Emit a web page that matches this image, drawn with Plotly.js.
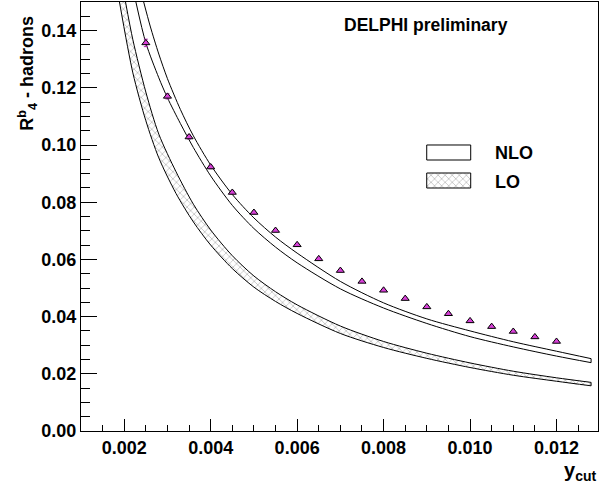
<!DOCTYPE html>
<html>
<head>
<meta charset="utf-8">
<script src="https://cdn.plot.ly/plotly-3.0.1.min.js"></script>
<style>
html,body{margin:0;padding:0;background:#fff;}
#chart{width:600px;height:483px;}
</style>
</head>
<body>
<div id="chart"></div>
<script>
// ---- data ----
const ycut = [0.0025,0.003,0.0035,0.004,0.0045,0.005,0.0055,0.006,0.0065,0.007,0.0075,0.008,0.0085,0.009,0.0095,0.010,0.0105,0.011,0.0115,0.012];
const r4b = [0.1357,0.1170,0.1028,0.0923,0.0834,0.0764,0.0701,0.0651,0.0602,0.0561,0.0523,0.0492,0.0463,0.0434,0.0410,0.0385,0.0365,0.0348,0.0329,0.0313];
const r4bErr = [0.0013,0.0009,0.0007,0.0006,0.0005,0.0005,0.0004,0.0004,0.0004,0.0004,0.0003,0.0003,0.0003,0.0003,0.0003,0.0003,0.0003,0.0003,0.0003,0.0003];

const nloUpperX = [0.00245,0.0026,0.0028,0.003,0.0033,0.0036,0.004,0.0045,0.005,0.0055,0.006,0.007,0.008,0.009,0.010,0.011,0.012,0.0128];
const nloUpperY = [0.150,0.1416,0.1318,0.1232,0.1124,0.1032,0.0930,0.0827,0.0745,0.0678,0.0622,0.0523,0.0448,0.0392,0.0350,0.0312,0.0279,0.0253];
const nloLowerX = [0.00227,0.0025,0.0028,0.003,0.0033,0.0036,0.004,0.0045,0.005,0.0055,0.006,0.007,0.008,0.009,0.010,0.011,0.012,0.0128];
const nloLowerY = [0.150,0.1357,0.1235,0.1165,0.1075,0.0991,0.0892,0.0789,0.0708,0.0643,0.0588,0.0497,0.0430,0.0376,0.0330,0.0294,0.0262,0.0239];

const loUpperX = [0.00203,0.0022,0.0025,0.0028,0.0032,0.0036,0.004,0.0045,0.005,0.0055,0.006,0.007,0.008,0.009,0.010,0.011,0.012,0.0128];
const loUpperY = [0.150,0.1368,0.1185,0.1038,0.0906,0.0793,0.0703,0.0613,0.0542,0.0487,0.0441,0.0367,0.0313,0.0272,0.0238,0.0209,0.0186,0.0170];
const loLowerX = [0.00189,0.0022,0.0025,0.0028,0.0032,0.0036,0.004,0.0045,0.005,0.0055,0.006,0.007,0.008,0.009,0.010,0.011,0.012,0.0128];
const loLowerY = [0.150,0.1252,0.1085,0.0955,0.0830,0.0731,0.0650,0.0568,0.0503,0.0453,0.0411,0.0341,0.0292,0.0254,0.0222,0.0195,0.0174,0.0158];

const xTickVals = [0.002,0.004,0.006,0.008,0.010,0.012];
const xTickText = ['0.002','0.004','0.006','0.008','0.010','0.012'];
const yTickVals = [0,0.02,0.04,0.06,0.08,0.10,0.12,0.14];
const yTickText = ['0.00','0.02','0.04','0.06','0.08','0.10','0.12','0.14'];

const seriesNames = ['NLO','LO'];
const titleText = 'DELPHI preliminary';
const yTitle = 'R<sup>b</sup><sub>4</sub> - hadrons';
const xTitle = 'y<sub>cut</sub>';

// ---- build ----
const FONT = 'Liberation Sans, Arial, Helvetica, sans-serif';
const last = a => a[a.length - 1];

function bandTraces(name, ux, uy, lx, ly, pattern) {
  const fillTrace = {
    type:'scatter', mode:'lines', name:name,
    x: ux.concat(lx.slice().reverse()),
    y: uy.concat(ly.slice().reverse()),
    fill:'toself', fillcolor:'#ffffff',
    line:{width:0, shape:'spline', smoothing:0.8},
    showlegend:false, hoverinfo:'skip'
  };
  if (pattern) fillTrace.fillpattern = pattern;
  const edge = (x, y) => ({
    type:'scatter', mode:'lines', x:x, y:y,
    line:{color:'#000', width:1, shape:'spline', smoothing:0.8},
    showlegend:false, hoverinfo:'skip'
  });
  const cap = {
    type:'scatter', mode:'lines', x:[last(ux), last(lx)], y:[last(uy), last(ly)],
    line:{color:'#000', width:1}, showlegend:false, hoverinfo:'skip'
  };
  return [fillTrace, edge(ux, uy), edge(lx, ly), cap];
}

const hatch = {shape:'x', fgcolor:'#a8a8a8', bgcolor:'#ffffff', size:5, solidity:0.22};

const traces = [].concat(
  bandTraces(seriesNames[1], loUpperX, loUpperY, loLowerX, loLowerY, hatch),
  bandTraces(seriesNames[0], nloUpperX, nloUpperY, nloLowerX, nloLowerY, null),
  [{
    type:'scatter', mode:'markers', name:'data',
    x: ycut, y: r4b,
    error_y:{type:'data', array:r4bErr, visible:true, color:'#b030b0', thickness:1, width:2},
    marker:{symbol:'triangle-up', size:7, color:'#d840d8', line:{color:'#000', width:1}},
    showlegend:false
  },
  // legend swatches on a hidden overlay axis (unit square of the plot area)
  {
    type:'scatter', mode:'lines', xaxis:'x2', yaxis:'y2',
    x:[0.6687,0.7538,0.7538,0.6687,0.6687], y:[0.6317,0.6317,0.6667,0.6667,0.6317],
    fill:'toself', fillcolor:'#ffffff', line:{color:'#000', width:1},
    showlegend:false, hoverinfo:'skip'
  },
  {
    type:'scatter', mode:'lines', xaxis:'x2', yaxis:'y2',
    x:[0.6687,0.7538,0.7538,0.6687,0.6687], y:[0.5664,0.5664,0.6014,0.6014,0.5664],
    fill:'toself', fillcolor:'#ffffff', fillpattern: hatch, line:{color:'#000', width:1},
    showlegend:false, hoverinfo:'skip'
  }]
);

const axisCommon = {
  showline:true, mirror:true, linecolor:'#000', linewidth:1,
  showgrid:false, zeroline:false, ticks:'inside', tickcolor:'#000', tickwidth:1,
  tickfont:{family:FONT, size:18, color:'#000', weight:'bold'}
};

const layout = {
  width:600, height:483,
  margin:{l:81, r:2, t:2, b:52},
  paper_bgcolor:'#fff', plot_bgcolor:'#fff',
  showlegend:false,
  xaxis: Object.assign({}, axisCommon, {
    range:[0.001, 0.01296], tickvals:xTickVals, ticktext:xTickText, ticklen:12,
    minor:{dtick:0.0005, tick0:0.001, ticks:'inside', ticklen:6, tickcolor:'#000', tickwidth:1, showgrid:false}
  }),
  yaxis: Object.assign({}, axisCommon, {
    range:[0, 0.15], tickvals:yTickVals, ticktext:yTickText, ticklen:16,
    minor:{dtick:0.005, tick0:0, ticks:'inside', ticklen:8.5, tickcolor:'#000', tickwidth:1, showgrid:false}
  }),
  xaxis2:{overlaying:'x', range:[0,1], visible:false, fixedrange:true},
  yaxis2:{overlaying:'y', range:[0,1], visible:false, fixedrange:true},
  annotations:[
    {xref:'paper', yref:'paper', x:0.505, y:0.946, xanchor:'left', yanchor:'middle', showarrow:false,
     text:titleText, font:{family:FONT, size:17.5, color:'#000', weight:'bold'}},
    {xref:'paper', yref:'paper', x:0.797, y:0.648, xanchor:'left', yanchor:'middle', showarrow:false,
     text:seriesNames[0], font:{family:FONT, size:18, color:'#000', weight:'bold'}},
    {xref:'paper', yref:'paper', x:0.797, y:0.580, xanchor:'left', yanchor:'middle', showarrow:false,
     text:seriesNames[1], font:{family:FONT, size:18, color:'#000', weight:'bold'}},
    {xref:'paper', yref:'paper', x:-0.104, y:0.972, xanchor:'center', yanchor:'top', showarrow:false,
     textangle:-90, text:yTitle, font:{family:FONT, size:18, color:'#000', weight:'bold'}},
    {xref:'paper', yref:'paper', x:1.0, y:-0.094, xanchor:'right', yanchor:'middle', showarrow:false,
     text:xTitle, font:{family:FONT, size:20, color:'#000', weight:'bold'}}
  ]
};

Plotly.newPlot('chart', traces, layout, {staticPlot:true, displayModeBar:false});
</script>
</body>
</html>
